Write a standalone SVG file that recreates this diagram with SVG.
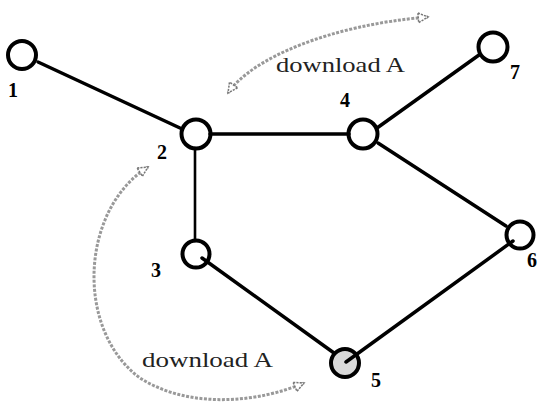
<svg xmlns="http://www.w3.org/2000/svg" width="537" height="417" viewBox="0 0 537 417">
<style>
.node{fill:#fff;stroke:#000;stroke-width:4}
.edge{stroke:#000;stroke-width:3.5;fill:none;stroke-linecap:round}
.lbl{font-family:"Liberation Serif","Times New Roman",serif;font-weight:bold;font-size:20px;fill:#000}
.dl{font-family:"Liberation Serif","Times New Roman",serif;font-size:21px;fill:#222}
.arr{fill:none;stroke:#999;stroke-width:3;stroke-dasharray:3 1.5}
</style>
<defs>
<marker id="ah" viewBox="0 0 12 12" refX="10" refY="6" markerWidth="13" markerHeight="13" markerUnits="userSpaceOnUse" orient="auto-start-reverse">
<path d="M1,1.5 L10,6 L1,10.5 Z" fill="#fff" stroke="#777" stroke-width="1.4" stroke-dasharray="2 1"/>
</marker>
</defs>
<rect width="537" height="417" fill="#fff"/>
<g id="node1"><circle class="node" cx="22" cy="55" r="14"/><text class="lbl" x="8" y="97">1</text></g>
<g id="node2"><circle class="node" cx="196" cy="134" r="14.5"/><text class="lbl" x="157" y="159">2</text></g>
<g id="node3"><circle class="node" cx="196" cy="254" r="13.5"/><text class="lbl" x="151" y="277">3</text></g>
<g id="node4"><circle class="node" cx="363" cy="134" r="14.5"/><text class="lbl" x="340" y="107">4</text></g>
<g id="node5"><circle class="node" cx="345" cy="363" r="14" style="fill:#d9d9d9"/><text class="lbl" x="371" y="387">5</text></g>
<g id="node6"><circle class="node" cx="520" cy="235" r="13.5"/><text class="lbl" x="527" y="267">6</text></g>
<g id="node7"><circle class="node" cx="493" cy="47" r="14.5"/><text class="lbl" x="510" y="79">7</text></g>
<g id="connectors">
<line class="edge" x1="38" y1="62" x2="180" y2="128"/>
<line class="edge" x1="210" y1="134" x2="349" y2="134"/>
<line class="edge" x1="195" y1="148" x2="195" y2="241" style="stroke-width:2.6"/>
<line class="edge" x1="202" y1="258" x2="334" y2="353"/>
<line class="edge" x1="346" y1="362" x2="513" y2="241"/>
<line class="edge" x1="378" y1="143" x2="506" y2="226"/>
<line class="edge" x1="377" y1="128" x2="479" y2="55"/>
<path class="arr" d="M 228,93 C 252,58 330,25 428,17" marker-start="url(#ah)" marker-end="url(#ah)"/>
<path class="arr" d="M 148,167 C 80,210 75,330 140,378 C 190,410 260,402 304,383" marker-start="url(#ah)" marker-end="url(#ah)"/>
</g>
<text class="dl" x="276" y="72" textLength="129" lengthAdjust="spacingAndGlyphs">download A</text>
<text class="dl" x="142" y="367" textLength="131" lengthAdjust="spacingAndGlyphs">download A</text>
</svg>
